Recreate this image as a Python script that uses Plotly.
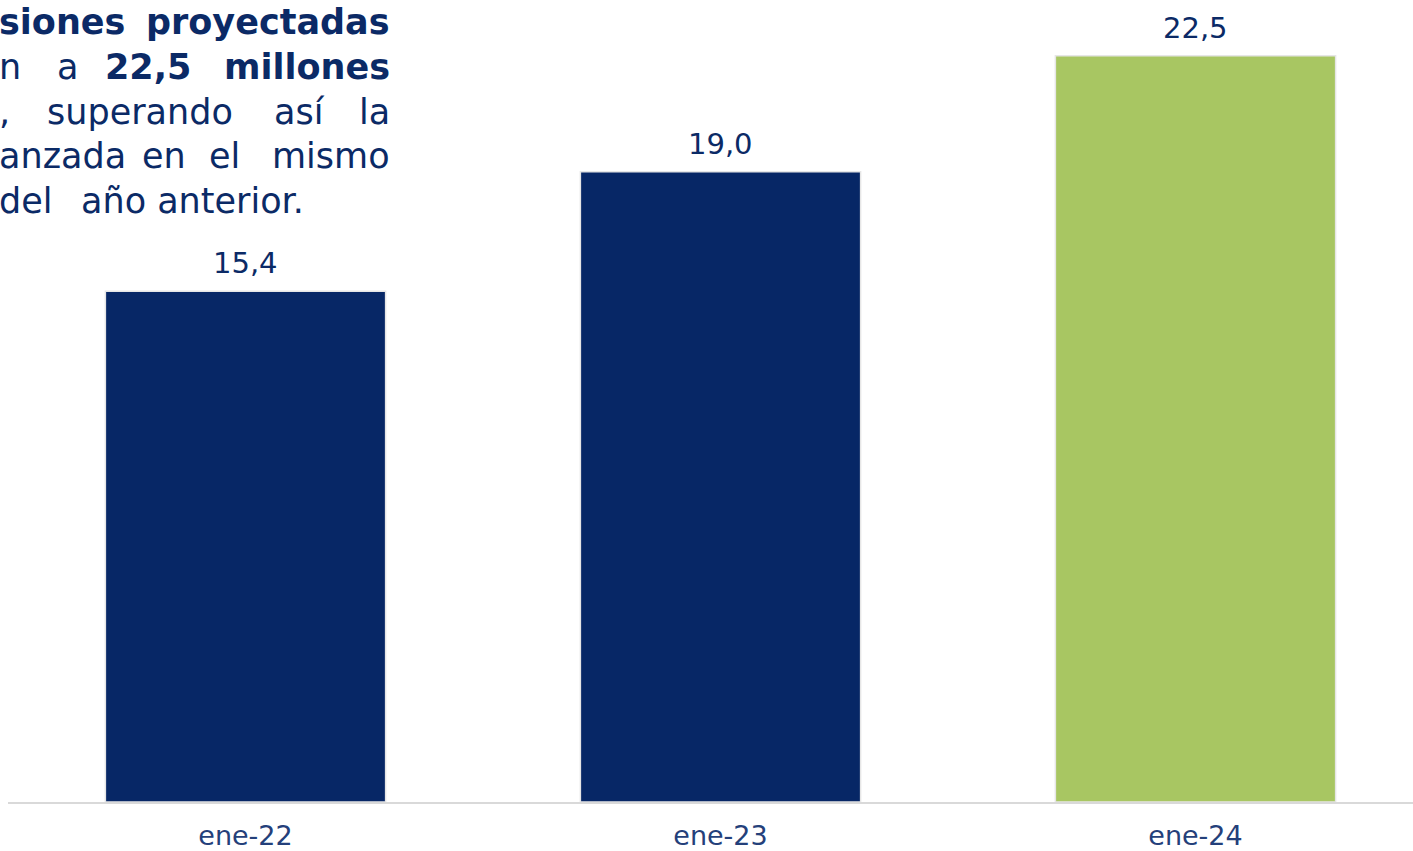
import plotly.graph_objects as go

categories = ["ene-22", "ene-23", "ene-24"]
values = [15.4, 19.0, 22.5]
value_labels = ["15,4", "19,0", "22,5"]
bar_colors = ["#072766", "#072766", "#a8c662"]

NAVY = "#0b2a66"
W, H = 1413, 851
L, R, T, B = 8, 0, 0, 47
PW, PH = W - L - R, H - T - B

fig = go.Figure()
fig.add_trace(go.Bar(
    x=categories, y=values,
    marker=dict(color=bar_colors, line=dict(color="#e6e6e6", width=1.5)),
    width=0.59, hoverinfo="skip",
))

for c, v, t in zip(categories, values, value_labels):
    fig.add_annotation(x=c, y=v, text=t, showarrow=False, yanchor="bottom",
                       yshift=9, font=dict(family="DejaVu Sans", size=29, color=NAVY))

# justified paragraph (clipped at the left edge in the original)
FONT = "DejaVu Sans"
FS = 35
lines = [
    (22, [("siones", 0, "left", True), ("proyectadas", 389, "right", True)]),
    (67, [("n", 0, "left", False), ("a", 67, "center", False), ("22,5", 148, "center", True), ("millones", 389, "right", True)]),
    (112, [(",", 0, "left", False), ("superando", 140, "center", False), ("así", 299, "center", False), ("la", 389, "right", False)]),
    (156, [("anzada", 0, "left", False), ("en", 164, "center", False), ("el", 224, "center", False), ("mismo", 389, "right", False)]),
    (201, [("del", 0, "left", False), ("año anterior.", 82, "left", False)]),
]
SHIFT = {"left": -3, "center": 0, "right": 3}
for py, words in lines:
    for word, px, anchor, bold in words:
        txt = f"<b>{word}</b>" if bold else word
        fig.add_annotation(xref="paper", yref="paper",
                           x=(px - L) / PW, y=(H - B - py) / PH,
                           xshift=SHIFT[anchor],
                           text=txt, showarrow=False, xanchor=anchor, yanchor="middle",
                           font=dict(family=FONT, size=FS, color=NAVY))

fig.update_layout(
    width=W, height=H,
    margin=dict(l=L, r=R, t=T, b=B),
    paper_bgcolor="white", plot_bgcolor="white",
    showlegend=False,
    xaxis=dict(range=[-0.5, -0.5 + PW / 475], showgrid=False, showline=True,
               linecolor="#d9d9d9", linewidth=2, ticks="", ticklabelstandoff=9,
               tickfont=dict(family="DejaVu Sans", size=27, color="#24407a")),
    yaxis=dict(range=[0, PH / 33.25], visible=False),
)
fig.write_html("out.html", config={"displayModeBar": False},
               post_script="document.body.style.margin='0';")
